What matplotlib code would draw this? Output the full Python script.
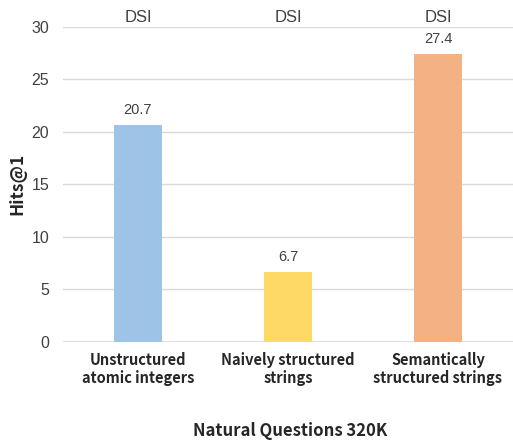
import matplotlib.pyplot as plt

categories = ["Unstructured\natomic integers", "Naively structured\nstrings", "Semantically\nstructured strings"]
hits = [20.7, 6.7, 27.4]
method = ["DSI", "DSI", "DSI"]
colors = ["#9DC3E6", "#FFD966", "#F4B183"]
yticks = [0, 5, 10, 15, 20, 25, 30]

cjk = ["Noto Sans CJK SC", "DejaVu Sans"]

fig = plt.figure(figsize=(5.13, 4.41), dpi=100)
ax = fig.add_axes([0.1228, 0.2245, 0.8772, 0.7143])

x = range(len(categories))
ax.bar(x, hits, width=0.32, color=colors, zorder=3)
ax.set_xlim(-0.5, 2.5)
ax.set_ylim(0, 30)
ax.set_yticks(yticks)
ax.grid(axis="y", color="#D9D9D9", linewidth=1, zorder=0)
for s in ax.spines.values():
    s.set_visible(False)
ax.axhline(0, color="#D9D9D9", linewidth=1.2, zorder=1)
ax.tick_params(length=0)
ax.tick_params(axis="y", pad=10)
for lbl in ax.get_yticklabels():
    lbl.set_family("Liberation Sans")
    lbl.set_fontsize(11.5)
    lbl.set_color("#404040")

ax.set_xticks(list(x))
ax.set_xticklabels(categories, family=cjk, fontweight="bold",
                   fontsize=10.5, color="#262626", linespacing=1.2)
ax.tick_params(axis="x", pad=7)

for i, v in enumerate(hits):
    ax.text(i, v + 0.75, f"{v}", ha="center", va="bottom", fontsize=10.5,
            color="#404040", family="Liberation Sans")
    ax.text(i, 30.15, method[i], ha="center", va="bottom", fontsize=12,
            color="#404040", family="Liberation Sans", clip_on=False)

fig.text(0.033, 0.583, "Hits@1", rotation=90, ha="center", va="center",
         family=cjk, fontweight="bold", fontsize=12.5, color="#262626")
fig.text(0.565, 0.022, "Natural Questions 320K", ha="center", va="center",
         family=cjk, fontweight="bold", fontsize=12, color="#262626")

fig.savefig("out.png", dpi=100)
